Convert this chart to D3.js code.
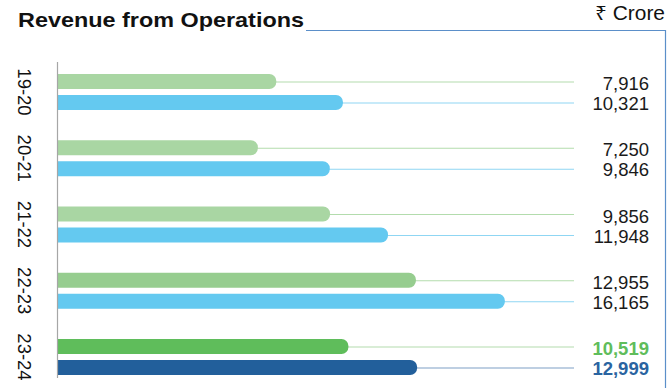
<!DOCTYPE html>
<html>
<head>
<meta charset="utf-8">
<script src="https://cdn.jsdelivr.net/npm/d3@7/dist/d3.min.js"></script>
<style>
  html, body { margin: 0; padding: 0; background: #fff; }
  svg { display: block; }
  text { font-family: "Liberation Sans", "Noto Sans", "DejaVu Sans", sans-serif; }
</style>
</head>
<body>
<svg id="chart" width="669" height="388"></svg>
<script>
// Revenue from operations, ₹ crore, by financial year
const years = ["19-20", "20-21", "21-22", "22-23", "23-24"];
const seriesPrev = [7916, 7250, 9856, 12955, 10519];
const seriesCurr = [10321, 9846, 11948, 16165, 12999];
const seriesKeys = ["prev", "curr"];
const titleText = "Revenue from Operations";
const unitText = "₹ Crore";

// styling
const barFill = {
  prev: ["#a9d6a3", "#a9d6a3", "#a9d6a3", "#96cd8f", "#5fbd5b"],
  curr: ["#64c9f0", "#64c9f0", "#64c9f0", "#64c9f0", "#225f9b"]
};
const leaderStroke = {
  prev: ["#b3dcad", "#b3dcad", "#b3dcad", "#b3dcad", "#b3dcad"],
  curr: ["#8fd6f3", "#8fd6f3", "#8fd6f3", "#8fd6f3", "#7f9fc6"]
};
const labelFill = {
  prev: ["#1a1a1a", "#1a1a1a", "#1a1a1a", "#1a1a1a", "#5fbd5b"],
  curr: ["#1a1a1a", "#1a1a1a", "#1a1a1a", "#1a1a1a", "#2a64a1"]
};
const frameColor = "#5b8fc9";

const svg = d3.select("#chart");

const rows = years.map((y, i) => ({
  year: y,
  i,
  prev: seriesPrev[i],
  curr: seriesCurr[i]
}));

// scales
const x = d3.scaleLinear().domain([0, 18660]).range([57, 574]);
const yGroup = d3.scaleBand().domain(years).range([58.875, 390.125]).padding(0);
const ySub = d3.scaleBand().domain(seriesKeys).range([-21, 21])
  .paddingInner(6 / 21).paddingOuter(3 / 21);

const groupCenter = y => yGroup(y) + yGroup.bandwidth() / 2;
const barTop = (y, k) => groupCenter(y) + ySub(k);
const barMid = (y, k) => barTop(y, k) + ySub.bandwidth() / 2;

// title, condensed into its slot before the frame line
svg.append("text")
  .attr("x", 18).attr("y", 27)
  .attr("font-weight", "bold")
  .attr("font-size", 20.5)
  .attr("fill", "#111")
  .attr("textLength", 286)
  .attr("lengthAdjust", "spacingAndGlyphs")
  .text(titleText);

// frame: underline from title to the right edge, then down
svg.append("path")
  .attr("d", `M306,30.5 H665.5 V388`)
  .attr("fill", "none")
  .attr("stroke", frameColor)
  .attr("stroke-width", 1.2);

// unit
svg.append("text")
  .attr("x", 665).attr("y", 20)
  .attr("text-anchor", "end")
  .attr("font-size", 19.5)
  .attr("fill", "#111")
  .attr("font-family", "'Noto Sans', 'DejaVu Sans', sans-serif")
  .attr("textLength", 70)
  .attr("lengthAdjust", "spacingAndGlyphs")
  .text(unitText);

// flattened bar records
const bars = [];
rows.forEach(r => seriesKeys.forEach(k => bars.push({ year: r.year, i: r.i, key: k, value: r[k] })));

// leader lines behind the bars
svg.append("g").selectAll("line")
  .data(bars).join("line")
  .attr("x1", x(0)).attr("x2", x.range()[1])
  .attr("y1", d => barMid(d.year, d.key) + 0.5)
  .attr("y2", d => barMid(d.year, d.key) + 0.5)
  .attr("stroke", d => leaderStroke[d.key][d.i])
  .attr("stroke-width", 1.2);

// bars: square on the axis side, rounded at the value end
const h = ySub.bandwidth();
const rad = 7;
svg.append("g").selectAll("path")
  .data(bars).join("path")
  .attr("fill", d => barFill[d.key][d.i])
  .attr("d", d => {
    const x0 = x(0), x1 = x(d.value);
    const t = barTop(d.year, d.key), b = t + h;
    return `M${x0},${t} H${x1 - rad} A${rad},${rad} 0 0 1 ${x1},${t + rad}` +
           ` V${b - rad} A${rad},${rad} 0 0 1 ${x1 - rad},${b} H${x0} Z`;
  });

// category axis line
svg.append("line")
  .attr("x1", 57.5).attr("x2", 57.5)
  .attr("y1", 62).attr("y2", 378)
  .attr("stroke", "#a6a6a6").attr("stroke-width", 1.2);

// rotated year labels
svg.append("g").selectAll("text")
  .data(rows).join("text")
  .attr("transform", d => `translate(24,${groupCenter(d.year)}) rotate(90)`)
  .attr("text-anchor", "middle")
  .attr("dominant-baseline", "central")
  .attr("font-size", 18.5)
  .attr("fill", "#111")
  .text(d => d.year);

// value labels
const fmt = d3.format(",");
svg.append("g").selectAll("text")
  .data(bars).join("text")
  .attr("x", 649)
  .attr("y", d => barMid(d.year, d.key) + (d.key === "prev" ? 2 : 1))
  .attr("text-anchor", "end")
  .attr("dominant-baseline", "central")
  .attr("font-size", 18.5)
  .attr("font-weight", d => d.i === years.length - 1 ? "bold" : "normal")
  .attr("fill", d => labelFill[d.key][d.i])
  .text(d => fmt(d.value));
</script>
</body>
</html>
